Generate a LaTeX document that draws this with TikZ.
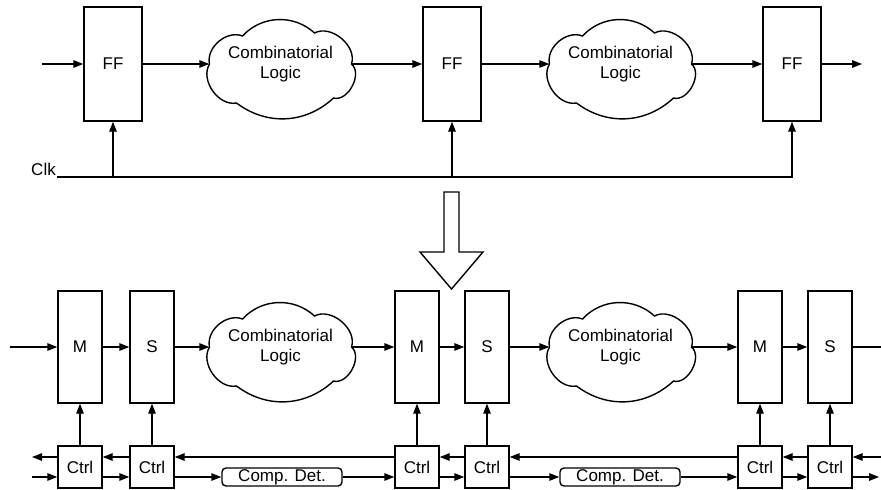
\documentclass[tikz,border=0pt]{standalone}
\usepackage{fontspec}
\setmainfont{Liberation Sans}
\usetikzlibrary{arrows.meta}
\tikzset{
  lw/.style={line width=1.4pt},
  arr/.style={lw, -{Triangle[length=10pt,width=7.5pt]}},
  every node/.style={font=\fontsize{17}{20}\selectfont},
  reg/.style={draw, lw, minimum width=58pt, minimum height=114pt, inner sep=0pt},
  latch/.style={draw, lw, minimum width=44pt, minimum height=112pt, inner sep=0pt},
  ctrl/.style={draw, lw, minimum width=44pt, minimum height=42pt, inner sep=0pt},
  det/.style={draw, lw, rounded corners=4pt, minimum width=120pt, minimum height=18pt, inner sep=0pt},
  logic/.style={minimum width=142pt, minimum height=90pt, inner sep=0pt, align=center},
  cloudpic/.pic={
    \draw[lw] (-71,0) to[bend left=62] (-38,-28) to[bend left=45] (34,-31)
      to[bend left=68] (71,0) to[bend left=78] (53,34) to[bend left=40] (-44,39)
      to[bend left=66] (-71,0) -- cycle;
  }
}
\begin{document}
\begin{tikzpicture}[x=1pt,y=-1pt]
  \useasboundingbox (0,0) rectangle (881,490);

  % ---------- single-edge pipeline ----------
  \node[reg] (ff1) at (113,64) {FF};
  \node[reg] (ff2) at (452,64) {FF};
  \node[reg] (ff3) at (792,64) {FF};
  \node[logic] (cl1) at (280.5,64) {Combinatorial\\Logic};
  \node[logic] (cl2) at (620.5,64) {Combinatorial\\Logic};
  \pic at (cl1.center) {cloudpic};
  \pic at (cl2.center) {cloudpic};

  \coordinate (in1) at (42,64);
  \coordinate (out1) at (862,64);
  \draw[arr] (in1) -- (ff1.west);
  \draw[arr] (ff1.east) -- (cl1.west);
  \draw[arr] (cl1.east) -- (ff2.west);
  \draw[arr] (ff2.east) -- (cl2.west);
  \draw[arr] (cl2.east) -- (ff3.west);
  \draw[arr] (ff3.east) -- (out1);

  % clock distribution
  \coordinate (clk) at (57,177);
  \node[anchor=south east, inner sep=1pt] (clkl) at (clk) {Clk};
  \draw[arr] (clk) -| (ff3.south);
  \draw[arr] (ff1.south |- clk) -- (ff1.south);
  \draw[arr] (ff2.south |- clk) -- (ff2.south);

  % transformation arrow
  \draw[lw] (444,192) -- (459,192) -- (459,252) -- (483,252) -- (451.5,289)
    -- (420,252) -- (444,252) -- cycle;

  % ---------- master/slave pipeline with handshake ----------
  \node[latch] (m1) at (80,347) {M};
  \node[latch] (s1) at (152,347) {S};
  \node[latch] (m2) at (417,347) {M};
  \node[latch] (s2) at (487,347) {S};
  \node[latch] (m3) at (760,347) {M};
  \node[latch] (s3) at (830,347) {S};
  \node[logic] (cl3) at (280.5,347) {Combinatorial\\Logic};
  \node[logic] (cl4) at (620.5,347) {Combinatorial\\Logic};
  \pic at (cl3.center) {cloudpic};
  \pic at (cl4.center) {cloudpic};

  \node[ctrl] (c1) at (80,467) {Ctrl};
  \node[ctrl] (c2) at (152,467) {Ctrl};
  \node[ctrl] (c3) at (417,467) {Ctrl};
  \node[ctrl] (c4) at (487,467) {Ctrl};
  \node[ctrl] (c5) at (760,467) {Ctrl};
  \node[ctrl] (c6) at (830,467) {Ctrl};
  \node[det] (cd1) at (282,477) {Comp. Det.};
  \node[det] (cd2) at (620,477) {Comp. Det.};

  % data path
  \coordinate (bin) at (10,347);
  \coordinate (bout) at (881,347);
  \draw[arr] (bin) -- (m1.west);
  \draw[arr] (m1.east) -- (s1.west);
  \draw[arr] (s1.east) -- (cl3.west);
  \draw[arr] (cl3.east) -- (m2.west);
  \draw[arr] (m2.east) -- (s2.west);
  \draw[arr] (s2.east) -- (cl4.west);
  \draw[arr] (cl4.east) -- (m3.west);
  \draw[arr] (m3.east) -- (s3.west);
  \draw[lw] (s3.east) -- (bout);

  % enables
  \foreach \c/\r in {c1/m1, c2/s1, c3/m2, c4/s2, c5/m3, c6/s3}
    \draw[arr] (\c.north) -- (\r.south);

  % acknowledge chain (right to left)
  \coordinate (lout) at (32,457);
  \coordinate (rin) at (881,457);
  \draw[arr] ([yshift=10pt]c1.west) -- (lout);
  \draw[arr] ([yshift=10pt]c2.west) -- ([yshift=10pt]c1.east);
  \draw[arr] ([yshift=10pt]c3.west) -- ([yshift=10pt]c2.east);
  \draw[arr] ([yshift=10pt]c4.west) -- ([yshift=10pt]c3.east);
  \draw[arr] ([yshift=10pt]c5.west) -- ([yshift=10pt]c4.east);
  \draw[arr] ([yshift=10pt]c6.west) -- ([yshift=10pt]c5.east);
  \draw[arr] (rin) -- ([yshift=10pt]c6.east);

  % request chain (left to right)
  \coordinate (lin) at (32,477);
  \coordinate (rout) at (879,477);
  \draw[arr] (lin) -- ([yshift=-10pt]c1.west);
  \draw[arr] ([yshift=-10pt]c1.east) -- ([yshift=-10pt]c2.west);
  \draw[arr] ([yshift=-10pt]c2.east) -- (cd1.west);
  \draw[arr] (cd1.east) -- ([yshift=-10pt]c3.west);
  \draw[arr] ([yshift=-10pt]c3.east) -- ([yshift=-10pt]c4.west);
  \draw[arr] ([yshift=-10pt]c4.east) -- (cd2.west);
  \draw[arr] (cd2.east) -- ([yshift=-10pt]c5.west);
  \draw[arr] ([yshift=-10pt]c5.east) -- ([yshift=-10pt]c6.west);
  \draw[arr] ([yshift=-10pt]c6.east) -- (rout);
\end{tikzpicture}
\end{document}
